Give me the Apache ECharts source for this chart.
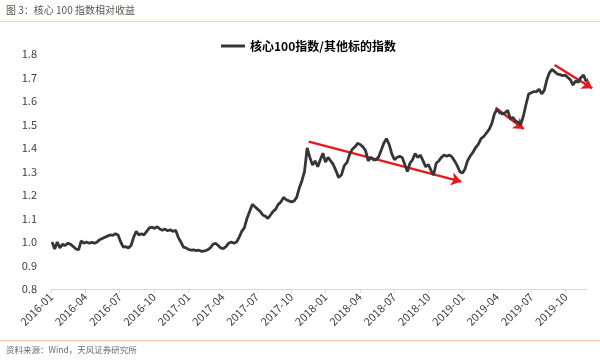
<!DOCTYPE html>
<html>
<head>
<meta charset="utf-8">
<script src="https://cdn.jsdelivr.net/npm/echarts@6/dist/echarts.min.js"></script>
<style>
html,body{margin:0;padding:0;background:#fff;}
#c{width:600px;height:362px;}
</style>
</head>
<body>
<div id="c"></div>
<script>
// ---- data ----
var seriesName = '核心100指数/其他标的指数';
var startDate = '2016-01-04';   // first weekly observation
var stepDays = 7;               // weekly observations
var values = [
1.00,0.97,1.00,0.975,0.99,0.985,0.995,0.99,0.98,0.97,
0.968,1.005,0.995,1.0,0.995,0.998,0.995,1.0,1.01,1.015,
1.02,1.025,1.03,1.028,1.035,1.03,1.0,0.978,0.98,0.975,
0.985,1.02,1.045,1.03,1.035,1.03,1.045,1.06,1.063,1.058,
1.065,1.055,1.05,1.055,1.048,1.052,1.045,1.05,1.02,1.0,
0.978,0.975,0.968,0.965,0.967,0.963,0.965,0.96,0.962,0.966,
0.975,0.99,0.995,0.985,0.975,0.972,0.98,0.995,1.0,0.995,
1.0,1.02,1.045,1.06,1.1,1.13,1.16,1.15,1.14,1.13,
1.115,1.11,1.1,1.115,1.13,1.14,1.16,1.17,1.19,1.18,
1.175,1.17,1.175,1.19,1.23,1.26,1.3,1.40,1.36,1.328,
1.345,1.32,1.35,1.378,1.34,1.36,1.345,1.33,1.305,1.275,
1.285,1.325,1.34,1.375,1.395,1.405,1.42,1.415,1.405,1.39,
1.345,1.36,1.35,1.35,1.362,1.39,1.42,1.44,1.415,1.375,
1.35,1.36,1.365,1.36,1.33,1.3,1.335,1.35,1.377,1.36,
1.37,1.345,1.32,1.33,1.305,1.285,1.335,1.345,1.36,1.37,
1.365,1.37,1.362,1.345,1.325,1.30,1.293,1.31,1.345,1.365,
1.38,1.40,1.415,1.44,1.45,1.465,1.48,1.505,1.545,1.565,
1.55,1.545,1.55,1.56,1.525,1.53,1.515,1.51,1.50,1.535,
1.585,1.63,1.635,1.64,1.64,1.65,1.63,1.645,1.69,1.72,
1.735,1.725,1.715,1.712,1.708,1.71,1.70,1.69,1.668,1.685,
1.68,1.70,1.71,1.682
];
var axisStart = '2016-01-01';
var axisEnd = '2019-11-27';
var yMin = 0.8, yMax = 1.8, yStep = 0.1;
var xStepMonths = 3;
// trend arrows: [startDate, startValue, endDate, endValue]
var arrow1 = ['2017-11-17', 1.427, '2018-12-28', 1.257];
var arrow2 = ['2019-03-28', 1.571, '2019-06-11', 1.481];
var arrow3 = ['2019-09-02', 1.753, '2019-12-11', 1.654];
var headerText = '图 3：核心 100 指数相对收益';
var sourceText = '资料来源：Wind，天风证券研究所';

// ---- helpers ----
function monthIndex(dstr){
  var p = dstr.split('-').map(Number);
  var y = p[0], m = p[1], d = p[2];
  var dim = new Date(y, m, 0).getDate();
  return (y - 2016) * 12 + (m - 1) + (d - 1) / dim;
}
function addDays(dstr, n){
  var p = dstr.split('-').map(Number);
  var dt = new Date(Date.UTC(p[0], p[1]-1, p[2] + n));
  return dt.getUTCFullYear() + '-' + (dt.getUTCMonth()+1) + '-' + dt.getUTCDate();
}
var lineData = values.map(function(v, i){
  return [monthIndex(addDays(startDate, i * stepDays)), v];
});
function arrowItem(a){
  return {coords: [[monthIndex(a[0]), a[1]], [monthIndex(a[2]), a[3]]]};
}
var FONT = 'Noto Sans CJK SC, Liberation Sans, sans-serif';

var chart = echarts.init(document.getElementById('c'), null, {renderer:'canvas'});
chart.setOption({
  backgroundColor: '#fff',
  animation: false,
  textStyle: {fontFamily: FONT},
  grid: {left: 51, right: 13, top: 54, bottom: 73, containLabel: false},
  graphic: [
    {type:'text', left: 6, top: 5, style:{text: headerText, fill:'#5a5550', font:'10px ' + FONT}},
    {type:'rect', left: 0, top: 21, shape:{width:600, height:1}, style:{fill:'#ead9c0'}},
    {type:'rect', left: 0, top: 340, shape:{width:600, height:1.5}, style:{fill:'#f2cfb0'}},
    {type:'text', left: 6, top: 346, style:{text: sourceText, fill:'#6a6a6a', font:'8.5px ' + FONT}}
  ],
  legend: {
    show: true,
    left: 216, top: 35,
    itemWidth: 24, itemHeight: 14, itemGap: 10,
    textStyle: {color:'#000', fontSize: 12, fontWeight:'bold', fontFamily: FONT},
    data: [{name: seriesName, icon: 'path://M0,0 L24,0 L24,3 L0,3 Z'}]
  },
  xAxis: {
    type: 'value',
    min: monthIndex(axisStart), max: monthIndex(axisEnd),
    interval: xStepMonths,
    axisLine: {show: true, lineStyle: {color:'#d9d9d9', width: 1}},
    axisTick: {show: true, length: 4, lineStyle: {color:'#d9d9d9'}},
    splitLine: {show: false},
    axisLabel: {
      rotate: 45, fontSize: 11, color:'#404040', margin: 6, fontFamily: FONT,
      showMaxLabel: false,
      formatter: function(v){
        var y = 2016 + Math.floor(Math.round(v) / 12);
        var m = Math.round(v) % 12 + 1;
        return y + '-' + (m < 10 ? '0' + m : m);
      }
    }
  },
  yAxis: {
    type: 'value', min: yMin, max: yMax, interval: yStep,
    axisLine: {show: false}, axisTick: {show: false}, splitLine: {show: false},
    axisLabel: {fontSize: 11, color:'#404040', margin: 14, fontFamily: FONT,
      formatter: function(v){ return v.toFixed(1); }}
  },
  series: [
    {
      name: seriesName, type: 'line', data: lineData,
      symbol: 'none', smooth: false,
      lineStyle: {color:'#363636', width: 2.8},
      itemStyle: {color:'#363636'}
    },
    {
      type: 'lines', coordinateSystem: 'cartesian2d', clip: false, silent: true,
      symbol: ['none', 'arrow'], symbolSize: [0, 10],
      lineStyle: {color:'#e3191c', width: 2.4, opacity: 1, curveness: 0},
      data: [arrowItem(arrow1), arrowItem(arrow2), arrowItem(arrow3)]
    }
  ]
});
</script>
</body>
</html>
